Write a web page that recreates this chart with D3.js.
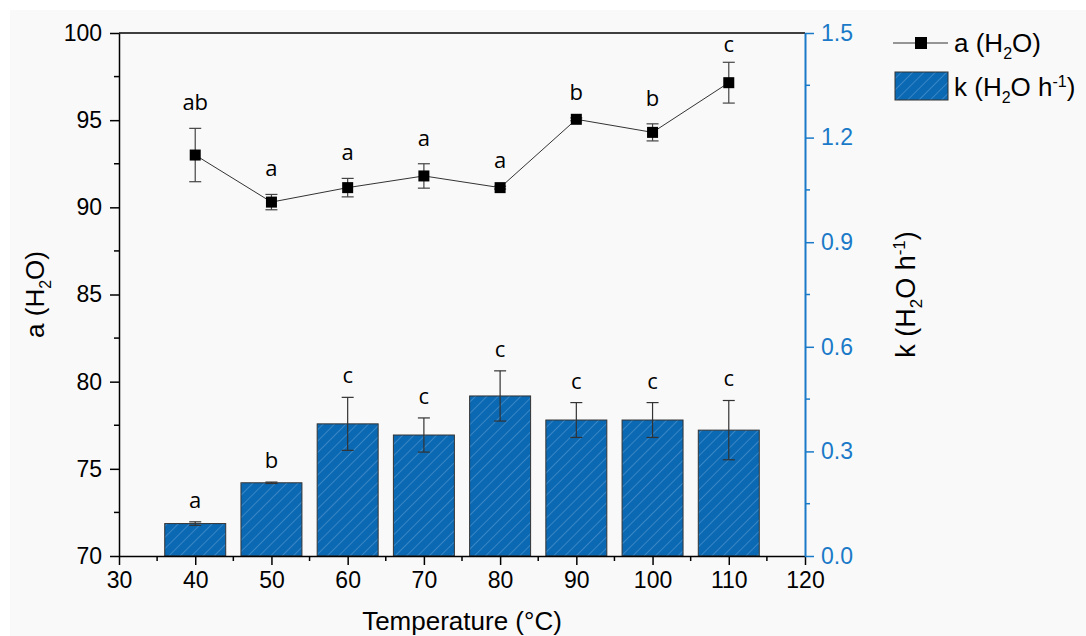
<!DOCTYPE html>
<html>
<head>
<meta charset="utf-8">
<script src="https://cdn.jsdelivr.net/npm/d3@7"></script>
<style>
  body { margin: 0; background: #fff; }
  svg { display: block; }
  .tick text { font-family: "Liberation Sans", Arial, sans-serif; }
</style>
</head>
<body>
<svg id="chart"></svg>
<script>
// data
const temps = [40, 50, 60, 70, 80, 90, 100, 110];
const aVals = [93.0, 90.3, 91.13, 91.8, 91.13, 95.05, 94.3, 97.15];
const aErr = [1.53, 0.44, 0.53, 0.7, 0.08, 0.08, 0.49, 1.17];
const aLetters = ['ab', 'a', 'a', 'a', 'a', 'b', 'b', 'c'];
const kVals = [0.093, 0.210, 0.379, 0.347, 0.459, 0.390, 0.390, 0.361];
const kErr = [0.005, 0.002, 0.076, 0.049, 0.072, 0.050, 0.050, 0.085];
const kLetters = ['a', 'b', 'c', 'c', 'c', 'c', 'c', 'c'];
const xTicks = [30, 40, 50, 60, 70, 80, 90, 100, 110, 120];
const aTicks = [70, 75, 80, 85, 90, 95, 100];
const kTicks = [0, 0.3, 0.6, 0.9, 1.2, 1.5];

const width = 1086, height = 636;
const margin = { top: 33, left: 119, right: 281, bottom: 80 };
const blue = '#0b68b2';
const axisBlue = '#1a7ac8';

const svg = d3.select('#chart').attr('width', width).attr('height', height);

// light panel, white strip on top and left
svg.append('rect')
    .attr('x', 10).attr('y', 10)
    .attr('width', width - 10).attr('height', height - 10)
    .attr('fill', '#f9f9f9');

const x = d3.scaleLinear().domain([30, 120]).range([margin.left, width - margin.right]);
const yA = d3.scaleLinear().domain([70, 100]).range([height - margin.bottom, margin.top]);
const yK = d3.scaleLinear().domain([0, 1.5]).range([height - margin.bottom, margin.top]);

// hatch pattern for bars
const defs = svg.append('defs');
const pat = defs.append('pattern')
    .attr('id', 'hatch')
    .attr('patternUnits', 'userSpaceOnUse')
    .attr('width', 8).attr('height', 8)
    .attr('patternTransform', 'rotate(45)');
pat.append('rect').attr('width', 8).attr('height', 8).attr('fill', blue);
pat.append('line')
    .attr('x1', 0).attr('y1', 0).attr('x2', 0).attr('y2', 8)
    .attr('stroke', '#6eaadd').attr('stroke-width', 0.9);

const barW = x(44) - x(36);

// bars
svg.append('g').selectAll('rect')
  .data(temps)
  .join('rect')
    .attr('x', (d) => x(d) - barW / 2)
    .attr('y', (d, i) => yK(kVals[i]))
    .attr('width', barW)
    .attr('height', (d, i) => yK(0) - yK(kVals[i]))
    .attr('fill', 'url(#hatch)')
    .attr('stroke', '#333')
    .attr('stroke-width', 1);

// error bars helper
function errBars(g, vals, errs, y, cap, color) {
  temps.forEach((t, i) => {
    const cx = x(t), y0 = y(vals[i] + errs[i]), y1 = y(vals[i] - errs[i]);
    g.append('line').attr('x1', cx).attr('x2', cx).attr('y1', y0).attr('y2', y1);
    g.append('line').attr('x1', cx - cap).attr('x2', cx + cap).attr('y1', y0).attr('y2', y0);
    g.append('line').attr('x1', cx - cap).attr('x2', cx + cap).attr('y1', y1).attr('y2', y1);
  });
  g.attr('stroke', color).attr('stroke-width', 1.2);
}

errBars(svg.append('g'), kVals, kErr, yK, 6, '#333');

const letterFont = '"Open Sans", "Noto Sans", sans-serif';

// letters over bars
svg.append('g').selectAll('text')
  .data(temps)
  .join('text')
    .attr('x', (d) => x(d))
    .attr('y', (d, i) => yK(kVals[i] + kErr[i]) - 14)
    .attr('text-anchor', 'middle')
    .style('font-family', letterFont)
    .style('font-size', '22px')
    .text((d, i) => kLetters[i]);

// line series a(H2O)
const line = d3.line().x((d) => x(d[0])).y((d) => yA(d[1]));
svg.append('path')
    .datum(temps.map((t, i) => [t, aVals[i]]))
    .attr('d', line)
    .attr('fill', 'none')
    .attr('stroke', '#333')
    .attr('stroke-width', 1);

errBars(svg.append('g'), aVals, aErr, yA, 6, '#444');

svg.append('g').selectAll('rect')
  .data(temps)
  .join('rect')
    .attr('x', (d) => x(d) - 5.5)
    .attr('y', (d, i) => yA(aVals[i]) - 5.5)
    .attr('width', 11).attr('height', 11)
    .attr('fill', '#000');

// letters over points, kept below the top frame
svg.append('g').selectAll('text')
  .data(temps)
  .join('text')
    .attr('x', (d) => x(d))
    .attr('y', (d, i) => Math.max(yA(100) + 19, yA(aVals[i] + aErr[i]) - 18))
    .attr('text-anchor', 'middle')
    .style('font-family', letterFont)
    .style('font-size', '22px')
    .text((d, i) => aLetters[i]);

// axes
function minorTicks(g, scale, vals, orient, len, color) {
  vals.forEach((v) => {
    const p = scale(v);
    const ln = g.append('line').attr('stroke', color).attr('stroke-width', 1.5);
    if (orient === 'bottom') ln.attr('x1', p).attr('x2', p).attr('y1', 0).attr('y2', len);
    if (orient === 'left') ln.attr('x1', 0).attr('x2', -len).attr('y1', p).attr('y2', p);
    if (orient === 'right') ln.attr('x1', 0).attr('x2', len).attr('y1', p).attr('y2', p);
  });
}

// top frame line
svg.append('line')
    .attr('x1', x(30)).attr('x2', x(120))
    .attr('y1', yA(100)).attr('y2', yA(100))
    .attr('stroke', '#000').attr('stroke-width', 1.5);

const xAxisG = svg.append('g')
    .attr('transform', `translate(0,${yA(70)})`)
    .call(d3.axisBottom(x).tickValues(xTicks).tickSize(9).tickSizeOuter(0).tickPadding(7));
minorTicks(xAxisG, x, d3.range(35, 120, 10), 'bottom', 5, '#000');

const yAG = svg.append('g')
    .attr('transform', `translate(${x(30)},0)`)
    .call(d3.axisLeft(yA).tickValues(aTicks).tickSize(9).tickSizeOuter(0).tickPadding(8));
minorTicks(yAG, yA, d3.range(72.5, 100, 5), 'left', 5, '#000');

const yKG = svg.append('g')
    .attr('transform', `translate(${x(120)},0)`)
    .call(d3.axisRight(yK).tickValues(kTicks).tickSize(9).tickSizeOuter(0).tickPadding(7)
      .tickFormat(d3.format('.1f')));
minorTicks(yKG, yK, d3.range(0.15, 1.5, 0.3), 'right', 5, axisBlue);

[xAxisG, yAG].forEach((g) => {
  g.selectAll('.domain').attr('stroke', '#000').attr('stroke-width', 1.5);
  g.selectAll('.tick line').attr('stroke', '#000').attr('stroke-width', 1.5);
  g.selectAll('.tick text').attr('fill', '#000').style('font-size', '23px');
});
yKG.selectAll('.domain').attr('stroke', axisBlue).attr('stroke-width', 2);
yKG.selectAll('.tick line').attr('stroke', axisBlue).attr('stroke-width', 1.5);
yKG.selectAll('.tick text').attr('fill', axisBlue).style('font-size', '23px');

// axis titles
const titleFont = '"Liberation Sans", Arial, sans-serif';
svg.append('text')
    .attr('x', (x(30) + x(120)) / 2)
    .attr('y', 630)
    .attr('text-anchor', 'middle')
    .style('font-family', titleFont)
    .style('font-size', '26px')
    .text('Temperature (°C)');

const aTitle = svg.append('text')
    .attr('transform', `translate(44,${(yA(70) + yA(100)) / 2}) rotate(-90)`)
    .attr('text-anchor', 'middle')
    .style('font-family', titleFont)
    .style('font-size', '26px');
aTitle.append('tspan').text('a (H');
aTitle.append('tspan').attr('dy', 7).style('font-size', '16px').text('2');
aTitle.append('tspan').attr('dy', -7).text('O)');

const kTitle = svg.append('text')
    .attr('transform', `translate(915,${(yK(0) + yK(1.5)) / 2}) rotate(-90)`)
    .attr('text-anchor', 'middle')
    .style('font-family', titleFont)
    .style('font-size', '27px');
kTitle.append('tspan').text('k (H');
kTitle.append('tspan').attr('dy', 7).style('font-size', '17px').text('2');
kTitle.append('tspan').attr('dy', -7).text('O h');
kTitle.append('tspan').attr('dy', -10).style('font-size', '17px').text('-1');
kTitle.append('tspan').attr('dy', 10).text(')');

// legend
const leg = svg.append('g');
leg.append('line').attr('x1', 893).attr('x2', 948).attr('y1', 43).attr('y2', 43)
    .attr('stroke', '#333').attr('stroke-width', 1);
leg.append('rect').attr('x', 915).attr('y', 37).attr('width', 12).attr('height', 12).attr('fill', '#000');
const l1 = leg.append('text').attr('x', 954).attr('y', 52)
    .style('font-family', titleFont).style('font-size', '26px');
l1.append('tspan').text('a (H');
l1.append('tspan').attr('dy', 7).style('font-size', '16px').text('2');
l1.append('tspan').attr('dy', -7).text('O)');

leg.append('rect').attr('x', 895).attr('y', 72).attr('width', 53).attr('height', 28)
    .attr('fill', 'url(#hatch)').attr('stroke', '#333').attr('stroke-width', 1);
const l2 = leg.append('text').attr('x', 954).attr('y', 96)
    .style('font-family', titleFont).style('font-size', '26px');
l2.append('tspan').text('k (H');
l2.append('tspan').attr('dy', 7).style('font-size', '16px').text('2');
l2.append('tspan').attr('dy', -7).text('O h');
l2.append('tspan').attr('dy', -9).style('font-size', '16px').text('-1');
l2.append('tspan').attr('dy', 9).text(')');
</script>
</body>
</html>
